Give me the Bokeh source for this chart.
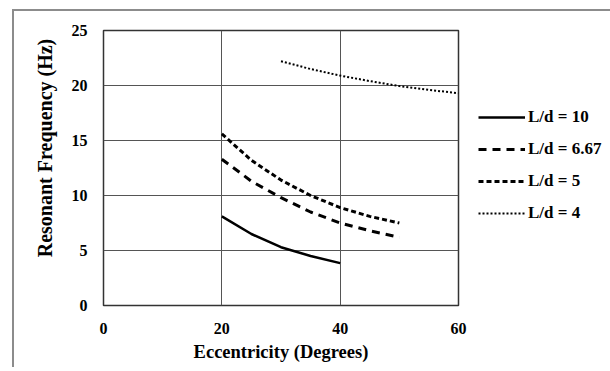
from bokeh.plotting import figure
from bokeh.models import Legend, LegendItem, FixedTicker
from bokeh.embed import file_html
from bokeh.resources import INLINE

# Data
x_10 = [20, 25, 30, 35, 40]
y_10 = [8.1, 6.5, 5.3, 4.5, 3.85]

x_667 = [20, 25, 30, 35, 40, 45, 50]
y_667 = [13.3, 11.3, 9.8, 8.5, 7.5, 6.8, 6.2]

x_5 = [20, 25, 30, 35, 40, 45, 50]
y_5 = [15.6, 13.2, 11.4, 10.0, 8.9, 8.1, 7.5]

x_4 = [30, 35, 40, 45, 50, 55, 60]
y_4 = [22.2, 21.5, 20.9, 20.4, 19.95, 19.6, 19.3]

x_ticks = [0, 20, 40, 60]
y_ticks = [0, 5, 10, 15, 20, 25]

FONT = "Liberation Serif"

p = figure(width=590, height=356, output_backend="svg", toolbar_location=None,
           x_range=(0, 60), y_range=(0, 25),
           min_border_left=89, min_border_right=146, min_border_top=19, min_border_bottom=62,
           frame_width=355, frame_height=275)
p.styles = {"margin-left": "12px", "margin-top": "9px",
            "border-left": "2px solid #8c8c8c", "border-top": "2px solid #8c8c8c",
            "border-right": "none", "border-bottom": "none"}

p.outline_line_color = "#333333"
p.outline_line_width = 1.5
p.background_fill_color = "white"
p.border_fill_color = "white"

p.xaxis.ticker = FixedTicker(ticks=x_ticks)
p.yaxis.ticker = FixedTicker(ticks=y_ticks)
for ax in (p.xaxis, p.yaxis):
    ax.axis_line_color = None
    ax.major_tick_line_color = None
    ax.minor_tick_line_color = None
    ax.major_label_text_font = FONT
    ax.major_label_text_font_style = "bold"
    ax.major_label_text_font_size = "16px"
    ax.major_label_text_color = "black"
    ax.axis_label_text_font = FONT
    ax.axis_label_text_font_style = "bold"
    ax.axis_label_text_color = "black"

p.xaxis.major_label_standoff = 11
p.yaxis.major_label_standoff = 10
p.xaxis.axis_label = "Eccentricity (Degrees)"
p.yaxis.axis_label = "\u00a0" * 8 + "Resonant Frequency (Hz)"
p.xaxis.axis_label_text_font_size = "18.5px"
p.yaxis.axis_label_text_font_size = "20px"
p.xaxis.axis_label_standoff = 5
p.yaxis.axis_label_standoff = 13

p.xgrid.ticker = FixedTicker(ticks=x_ticks)
p.ygrid.ticker = FixedTicker(ticks=y_ticks)
p.grid.grid_line_color = "#555555"
p.grid.grid_line_width = 1

r10 = p.line(x_10, y_10, line_color="black", line_width=2.5)
r667 = p.line(x_667, y_667, line_color="black", line_width=3, line_dash="8 6")
r5 = p.line(x_5, y_5, line_color="black", line_width=3, line_dash="5 3")
r4 = p.line(x_4, y_4, line_color="black", line_width=2, line_dash="2 2")

legend = Legend(items=[
    LegendItem(label="L/d = 10", renderers=[r10]),
    LegendItem(label="L/d = 6.67", renderers=[r667]),
    LegendItem(label="L/d = 5", renderers=[r5]),
    LegendItem(label="L/d = 4", renderers=[r4]),
], location=(20, 82))
legend.label_text_font = FONT
legend.label_text_font_style = "bold"
legend.label_text_font_size = "17px"
legend.label_text_color = "black"
legend.glyph_width = 47
legend.glyph_height = 20
legend.label_height = 20
legend.label_standoff = 3
legend.spacing = 12
legend.padding = 0
legend.margin = 0
legend.border_line_color = None
legend.background_fill_color = None
p.add_layout(legend, "right")

open("out.html", "w").write(file_html(p, INLINE))
